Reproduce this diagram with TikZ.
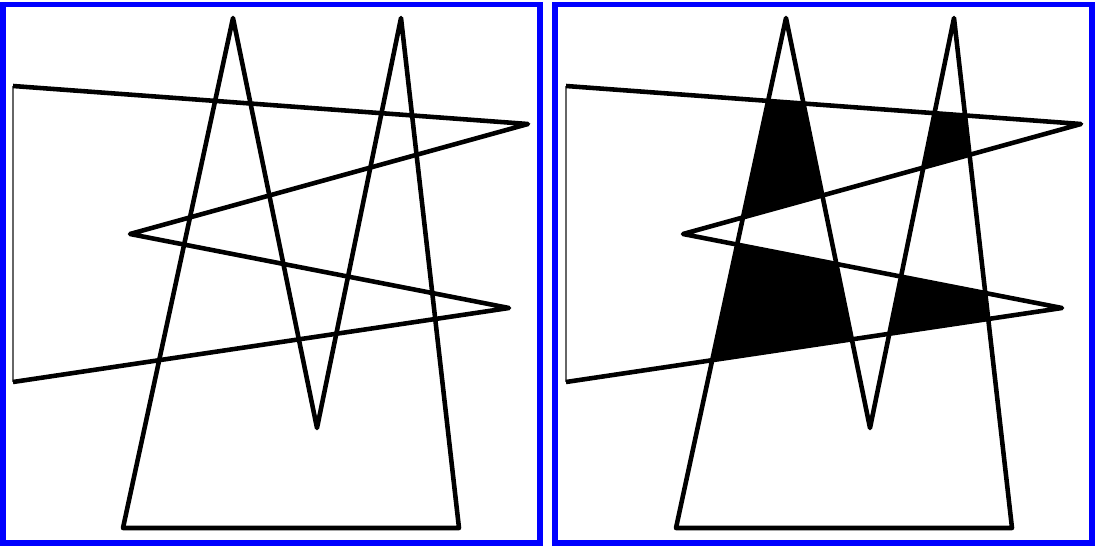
\documentclass[tikz,border=0pt]{standalone}
\usepackage{xcolor}
\usepackage{tikz}
\definecolor{framebl}{RGB}{0,0,255}
\tikzset{
  panelframe/.style={draw=framebl,line width=3.4pt},
  outlineedge/.style={draw=black,line width=2.6pt,line join=round},
  thinedge/.style={draw=black!60,line width=0.8pt},
  overlapfill/.style={fill=black}
}

\begin{document}
\begin{tikzpicture}[x=0.02cm,y=-0.02cm]
  \useasboundingbox (0,0) rectangle (1095,550);

  % left panel: the two outlines
  \draw[panelframe] (3,4.5) rectangle (540,543);
  \coordinate (p1) at (123,528);
  \coordinate (p2) at (233,18);
  \coordinate (p3) at (317,428);
  \coordinate (p4) at (401,18);
  \coordinate (p5) at (459,528);
  \coordinate (z1) at (13,86);
  \coordinate (z2) at (528,124);
  \coordinate (z3) at (130,234);
  \coordinate (z4) at (509,308);
  \coordinate (z5) at (13,382);
  \draw[thinedge] (z5)--(z1);
  \draw[outlineedge] (p1)--(p2)--(p3)--(p4)--(p5)--cycle;
  \draw[outlineedge] (z1)--(z2)--(z3)--(z4)--(z5);

  % right panel: same outlines, overlap filled
  \begin{scope}[xshift=553*0.02cm]
    \draw[panelframe] (2,4.5) rectangle (539,543);
    \coordinate (q1) at (123,528);
    \coordinate (q2) at (233,18);
    \coordinate (q3) at (317,428);
    \coordinate (q4) at (401,18);
    \coordinate (q5) at (459,528);
    \coordinate (w1) at (13,86);
    \coordinate (w2) at (528,124);
    \coordinate (w3) at (130,234);
    \coordinate (w4) at (509,308);
    \coordinate (w5) at (13,382);
    \begin{scope}
      \clip (q1)--(q2)--(q3)--(q4)--(q5)--cycle;
      \fill[overlapfill] (w1)--(w2)--(w3)--(w4)--(w5)--cycle;
    \end{scope}
    \draw[thinedge] (w5)--(w1);
    \draw[outlineedge] (q1)--(q2)--(q3)--(q4)--(q5)--cycle;
    \draw[outlineedge] (w1)--(w2)--(w3)--(w4)--(w5);
  \end{scope}
\end{tikzpicture}
\end{document}
